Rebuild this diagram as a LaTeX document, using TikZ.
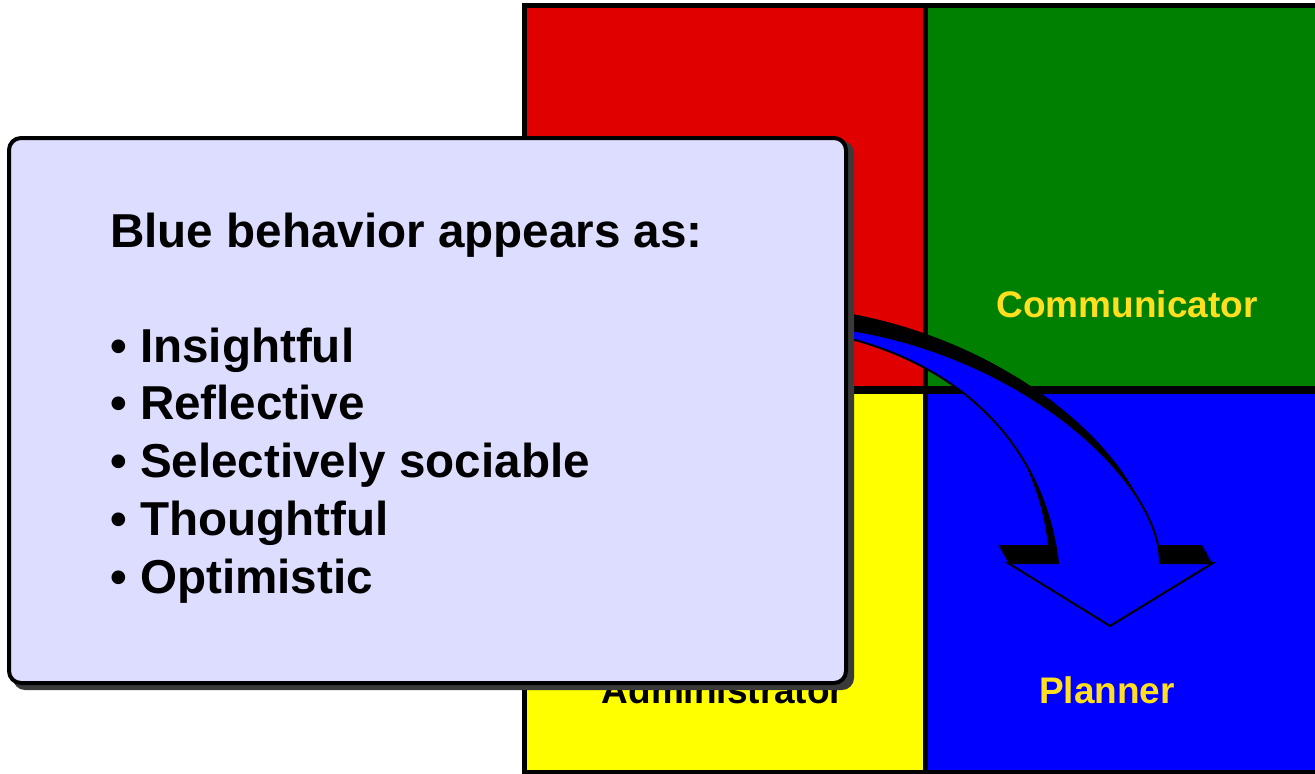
\documentclass[tikz,border=0pt]{standalone}
\usepackage{fontspec}
\setmainfont{Liberation Sans}
\usetikzlibrary{shadows}

\definecolor{cellred}{HTML}{E00000}
\definecolor{cellgreen}{HTML}{008000}
\definecolor{cellyellow}{HTML}{FFFF00}
\definecolor{cellblue}{HTML}{0000FF}
\definecolor{labelgold}{HTML}{FFDF1F}
\definecolor{cardfill}{HTML}{DDDDFF}
\definecolor{cardshade}{HTML}{3A3A3A}

\tikzset{
  cell/.style={rectangle, draw=black, line width=5pt, inner sep=0pt, outer sep=0pt, anchor=north west},
  quadlabel/.style={font=\fontsize{37}{44}\selectfont\bfseries, inner sep=0pt, anchor=base},
  cardtext/.style={font=\fontsize{47.6}{57}\selectfont\bfseries, inner sep=0pt, anchor=base west},
  card/.style={rectangle, rounded corners=12pt, draw=black, line width=4pt, fill=cardfill,
    minimum width=837pt, minimum height=545pt, inner sep=0pt},
  cardshadow/.style={rectangle, rounded corners=12pt, fill=cardshade, draw=none,
    minimum width=841pt, minimum height=549pt, inner sep=0pt},
  % tapered, bent arrow pointing down into the lower right quadrant
  bentarrow/.pic={
    \path[pic actions] (830,327) .. controls (1020,350) and (1160,480) .. (1160,563)
      -- (1213,563) -- (1110,626) -- (1008,563) -- (1058,563)
      .. controls (1045,450) and (965,362) .. (830,334) -- cycle;
  }
}

\begin{document}
\begin{tikzpicture}[x=1pt,y=-1pt]
\useasboundingbox (0,0) rectangle (1315,774);
\fill[white] (0,0) rectangle (1315,774);

% four coloured quadrants
\node[cell, fill=cellred,    minimum width=400.5pt, minimum height=384pt] (qred)    at (524.5,5.5) {};
\node[cell, fill=cellgreen,  minimum width=410pt,   minimum height=384pt] (qgreen)  at (925,5.5) {};
\node[cell, fill=cellyellow, minimum width=400.5pt, minimum height=383pt] (qyellow) at (524.5,389.5) {};
\node[cell, fill=cellblue,   minimum width=410pt,   minimum height=383pt] (qblue)   at (925,389.5) {};
\draw[line width=8pt] (qred.south west) -- (qgreen.south east);

% quadrant labels
\node[quadlabel, text=labelgold] (lcomm)  at (1127,317) {Communicator};
\node[quadlabel, text=labelgold] (lplan)  at (1107,703.5) {Planner};
\node[quadlabel, text=black]     (ladmin) at (723,703.5) {Administrator};

% extruded black body of the arrow, then the blue face
\foreach \k in {0,1,...,20}
  \pic[fill=black] at ({-0.5*\k},{-0.9*\k}) {bentarrow};
\pic[fill=cellblue, draw=black, line width=2pt, line join=miter] at (0,0) {bentarrow};

% callout card
\node[cardshadow] (cardshade) at (433.5,415.5) {};
\node[card] (cardbox) at (427.5,410.5) {};

\node[cardtext] (heading) at (110,247) {Blue behavior appears as:};
\node[cardtext] (item1) at (110,362.2) {• Insightful};
\node[cardtext] (item2) at (110,419.9) {• Reflective};
\node[cardtext] (item3) at (110,477.6) {• Selectively sociable};
\node[cardtext] (item4) at (110,535.3) {• Thoughtful};
\node[cardtext] (item5) at (110,593) {• Optimistic};
\end{tikzpicture}
\end{document}
